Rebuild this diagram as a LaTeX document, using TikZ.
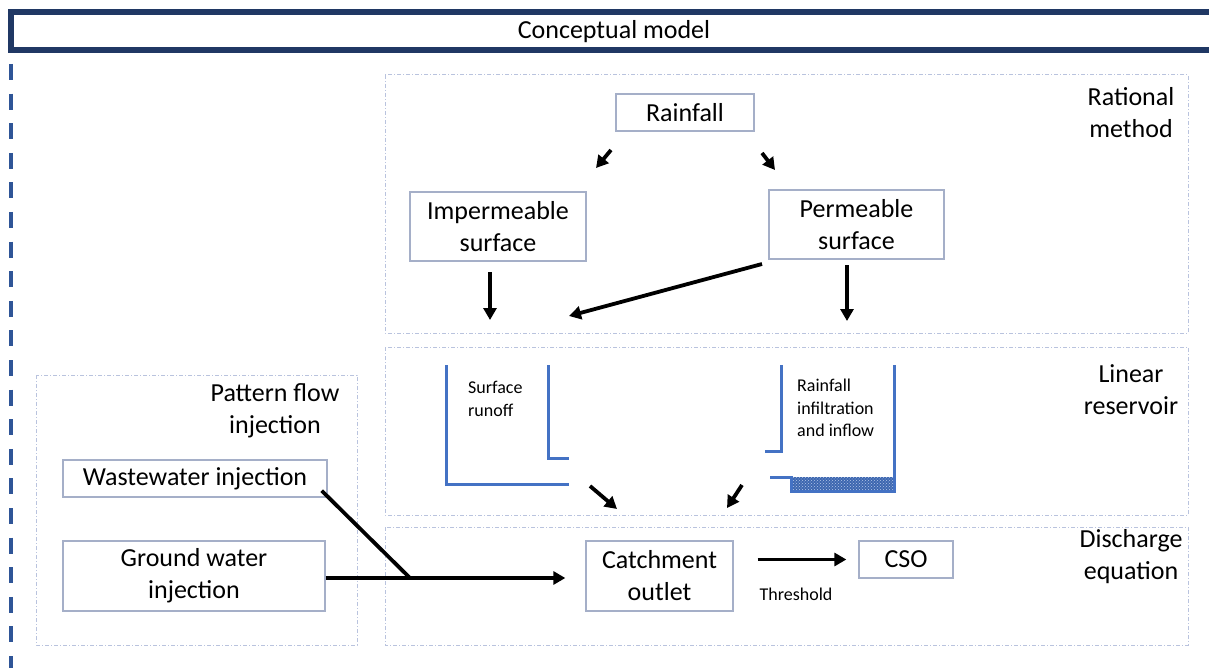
\documentclass[tikz,border=0pt]{standalone}
\usepackage{fontspec}
\setmainfont{Carlito}
\usepackage{xcolor}
\usetikzlibrary{arrows.meta, patterns}

\definecolor{navy}{RGB}{32,56,100}
\definecolor{dashblue}{RGB}{47,85,151}
\definecolor{resblue}{RGB}{68,114,196}
\definecolor{boxgray}{RGB}{165,175,200}
\definecolor{zonegray}{RGB}{185,195,222}

\newcommand{\mainsize}{\fontsize{26}{32}\selectfont}
\newcommand{\notesize}{\fontsize{18}{22.5}\selectfont}

\tikzset{
	box/.style={draw=boxgray, line width=1.3pt, align=center, inner sep=0pt, font=\mainsize},
	zone/.style={draw=zonegray, line width=1pt, dash pattern=on 4pt off 2pt on 1pt off 2pt},
	zonelabel/.style={align=center, inner sep=0pt, font=\mainsize},
	flow/.style={line width=3.8pt, -{Triangle[length=12pt, width=13pt]}},
	joint/.style={line width=3.8pt},
	reservoir/.style={draw=resblue, line width=3pt},
	note/.style={align=left, inner sep=0pt, anchor=north west, font=\notesize}
}

\begin{document}
\begin{tikzpicture}[x=1pt, y=-1pt]
	\useasboundingbox (0,0) rectangle (1209,668);
	
	\draw [navy, line width=6pt] (10.5,12.5) rectangle (1225,50.5);
	\node [inner sep=0pt, font=\mainsize] (title) at (614,32) {Conceptual model};
	\draw [dashblue, line width=4.5pt, dash pattern=on 16pt off 13.6pt] (11,64) -- (11,668);
	
	\draw [zone] (385,75) rectangle (1188,333);
	\draw [zone] (385,347) rectangle (1188,515);
	\draw [zone] (385,527) rectangle (1188,645);
	\draw [zone] (36,375) rectangle (357,645);
	
	\node [zonelabel] (rational) at (1131,113) {Rational\\method};
	\node [zonelabel] (linear) at (1131,390) {Linear\\reservoir};
	\node [zonelabel] (discharge) at (1131,557) {Discharge\\equation};
	\node [zonelabel] (pattern) at (275,411) {Pattern flow\\injection};
	
	\node [box, minimum width=138pt, minimum height=37pt] (rain) at (685,112.5) {Rainfall};
	\node [box, minimum width=176pt, minimum height=69pt] (imp) at (498,226.5) {Impermeable\\surface};
	\node [box, minimum width=175pt, minimum height=69pt] (perm) at (856.5,224.5) {Permeable\\surface};
	\node [box, minimum width=264pt, minimum height=37pt] (waste) at (195,478.5) {Wastewater injection};
	\node [box, minimum width=262pt, minimum height=70pt] (ground) at (194,576) {Ground water\\injection};
	\node [box, minimum width=147pt, minimum height=70pt] (outlet) at (659.5,576) {Catchment\\outlet};
	\node [box, minimum width=94pt, minimum height=37pt] (cso) at (906,559.5) {CSO};
	
	\draw [reservoir] (446,365) -- (446,484) -- (569,484);
	\draw [reservoir] (548,365) -- (548,458) -- (569,458);
	\node [note] (runoff) at (468,381) {Surface\\runoff};
	\fill [resblue!90!black] (791,477) rectangle (894,491);
	\fill [pattern=crosshatch dots, pattern color=resblue!40!white] (791,477) rectangle (894,491);
	\draw [reservoir] (781,365) -- (781,451) -- (765,451);
	\draw [reservoir] (770,477) -- (791,477) -- (791,491) -- (894,491) -- (894,365);
	\node [note] (infiltration) at (797,379) {Rainfall\\infiltration\\and inflow};
	
	\coordinate (rainL) at (611,150);
	\coordinate (impT) at (596,168);
	\coordinate (rainR) at (762,153);
	\coordinate (permT) at (775,170);
	\coordinate (impB) at (490,272);
	\coordinate (runoffT) at (490,320);
	\coordinate (permB) at (847,265);
	\coordinate (infT) at (847,321);
	\coordinate (permL) at (762,264);
	\coordinate (runoffR) at (569,316);
	\coordinate (runoffO) at (590,486);
	\coordinate (outletL) at (617,509);
	\coordinate (infO) at (742,485);
	\coordinate (outletR) at (727,508);
	\coordinate (join) at (410,578);
	
	\draw [flow] (rainL) -- (impT);
	\draw [flow] (rainR) -- (permT);
	\draw [flow] (impB) -- (runoffT);
	\draw [flow] (permB) -- (infT);
	\draw [flow] (permL) -- (runoffR);
	\draw [flow] (runoffO) -- (outletL);
	\draw [flow] (infO) -- (outletR);
	
	\draw [joint] ([shift={(-6pt,7pt)}]waste.south east) -- (join);
	\draw [flow, shorten >=20pt] ([yshift=-2pt]ground.east) -- ([yshift=-2pt]outlet.west);
	\draw [flow, shorten <=24pt, shorten >=12pt] (outlet.east |- cso.west) -- (cso.west)
		node [midway, below=27pt, inner sep=0pt, font=\notesize] (threshold) {Threshold};
\end{tikzpicture}
\end{document}
